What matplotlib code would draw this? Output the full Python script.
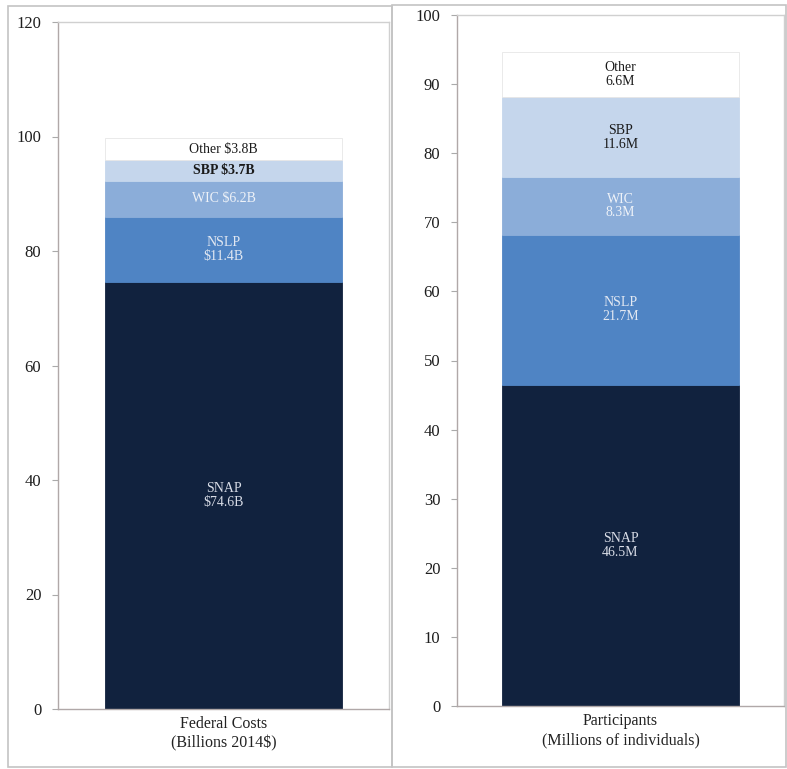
import matplotlib
matplotlib.use("Agg")
import matplotlib.pyplot as plt
from matplotlib.patches import Rectangle

plt.rcParams['font.family'] = ['Liberation Serif', 'DejaVu Serif']

programs = ["SNAP", "NSLP", "WIC", "SBP", "Other"]
cost_values = [74.6, 11.4, 6.2, 3.7, 3.8]
cost_labels = ["SNAP\n$74.6B", "NSLP\n$11.4B", "WIC $6.2B", "SBP $3.7B", "Other $3.8B"]
part_values = [46.5, 21.7, 8.3, 11.6, 6.6]
part_labels = ["SNAP\n46.5M", "NSLP\n21.7M", "WIC\n8.3M", "SBP\n11.6M", "Other\n6.6M"]
cost_ticks = [0, 20, 40, 60, 80, 100, 120]
part_ticks = [0, 10, 20, 30, 40, 50, 60, 70, 80, 90, 100]
cost_category = "Federal Costs\n(Billions 2014$)"
part_category = "Participants\n(Millions of individuals)"

colors = ["#11223e", "#4f84c4", "#8badd9", "#c5d6ec", "#ffffff"]
text_colors = ["#d8dce6", "#e2e8f2", "#eef2f8", "#1a1a1a", "#1a1a1a"]

W, H = 787, 769
fig = plt.figure(figsize=(W / 100, H / 100), dpi=100)

# panel frames
for (x0, y0, x1, y1) in [(8, 6, 392, 767), (392, 5, 786, 767)]:
    fig.add_artist(Rectangle((x0 / W, 1 - y1 / H), (x1 - x0) / W, (y1 - y0) / H,
                             transform=fig.transFigure, fill=False,
                             edgecolor="#c4c4c4", linewidth=1.2))


def panel(rect_px, values, labels, ticks, category, bar_w, weights):
    x0, y0, x1, y1 = rect_px
    ax = fig.add_axes([x0 / W, 1 - y1 / H, (x1 - x0) / W, (y1 - y0) / H])
    bottom = 0.0
    for i, (v, lab) in enumerate(zip(values, labels)):
        ax.bar(0, v, width=bar_w, bottom=bottom, color=colors[i],
               edgecolor="#e6e6e6" if i == len(values) - 1 else colors[i],
               linewidth=0.6)
        ax.text(0, bottom + v / 2, lab, ha="center", va="center",
                fontsize=10, color=text_colors[i],
                fontweight=weights[i], linespacing=1.05)
        bottom += v
    ax.set_xlim(-0.5, 0.5)
    ax.set_ylim(ticks[0], ticks[-1])
    ax.set_yticks(ticks)
    ax.set_xticks([0])
    ax.set_xticklabels([category], fontsize=11.5, color="#222222", linespacing=1.25)
    ax.tick_params(axis="x", length=0, pad=5)
    ax.tick_params(axis="y", length=4, color="#aaaaaa", labelsize=12,
                   labelcolor="#1e1e1e", pad=8)
    for s in ["left", "bottom"]:
        ax.spines[s].set_color("#b0a8a8")
        ax.spines[s].set_linewidth(1.0)
    for s in ["top", "right"]:
        ax.spines[s].set_color("#d0d0d0")
        ax.spines[s].set_linewidth(1.0)
    return ax


panel((58, 22, 389, 709), cost_values, cost_labels, cost_ticks, cost_category,
      0.713, ["normal", "normal", "normal", "bold", "normal"])
panel((457, 15, 784, 706), part_values, part_labels, part_ticks, part_category,
      0.722, ["normal", "normal", "normal", "normal", "normal"])

fig.savefig("out.png", dpi=100)
